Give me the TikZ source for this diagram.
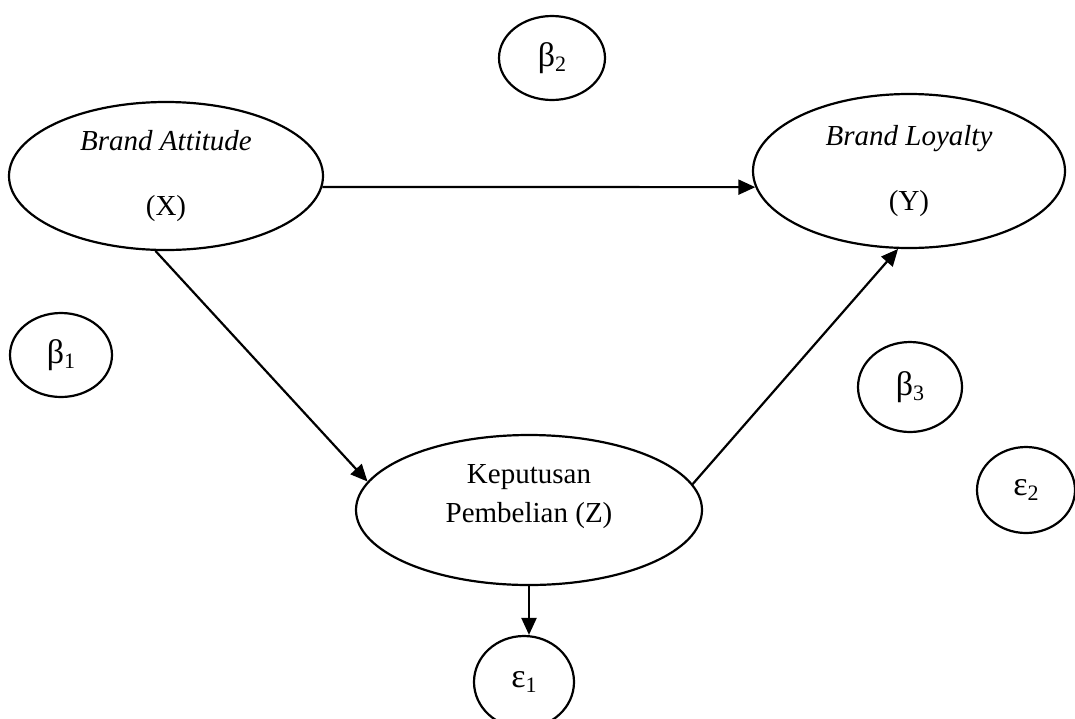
\documentclass[tikz,border=0pt]{standalone}
\usepackage{fontspec}
\setmainfont{Liberation Serif}
\usetikzlibrary{shapes.geometric,arrows.meta}
\newcommand{\gsub}[2]{#1\raisebox{-0.3ex}{\fontsize{22}{22}\selectfont #2}}
\begin{document}
\begin{tikzpicture}[x=1pt,y=-1pt,
  var/.style={draw, ellipse, line width=2.2pt, inner sep=0pt, font=\fontsize{29}{35}\selectfont, align=center},
  coef/.style={draw, ellipse, line width=2.2pt, inner sep=0pt, font=\fontsize{34}{34}\selectfont},
  txt/.style={inner sep=0pt, font=\fontsize{29}{39}\selectfont, align=center},
  arr/.style={line width=2.2pt, -{Triangle[length=17pt,width=15pt]}}]
\useasboundingbox (0,0) rectangle (1075,718);
\fill[white] (0,0) rectangle (1075,718);

\node[var, minimum width=314pt, minimum height=148pt] (BA) at (166,176) {\textit{Brand Attitude}\\[30pt](X)};
\node[var, minimum width=312pt, minimum height=154pt] (BL) at (909,171) {\textit{Brand Loyalty}\\[30pt](Y)};
\node[draw, ellipse, line width=2.2pt, inner sep=0pt, minimum width=346pt, minimum height=150pt] (Kep) at (529,510) {};
\node[txt] (KepT) at (529,497) {Keputusan\\Pembelian (Z)};

\node[coef, minimum width=106pt, minimum height=84pt] (B2) at (552,58) {\gsub{β}{2}};
\node[coef, minimum width=102pt, minimum height=84pt] (B1) at (61,355) {\gsub{β}{1}};
\node[coef, minimum width=104pt, minimum height=90pt] (B3) at (910,387) {\gsub{β}{3}};
\node[coef, minimum width=98pt, minimum height=86pt] (E2) at (1026,490) {\gsub{ε}{2}};
\node[coef, minimum width=100pt, minimum height=92pt] (E1) at (524,682) {\gsub{ε}{1}};

\draw[arr] (BA.-4) -- (BL.186);
\draw[arr] (BA.262) -- (Kep.170);
\draw[arr] (Kep.9) -- (BL.262);
\draw[arr] (Kep.south) -- (Kep.south |- E1.north);
\end{tikzpicture}
\end{document}
